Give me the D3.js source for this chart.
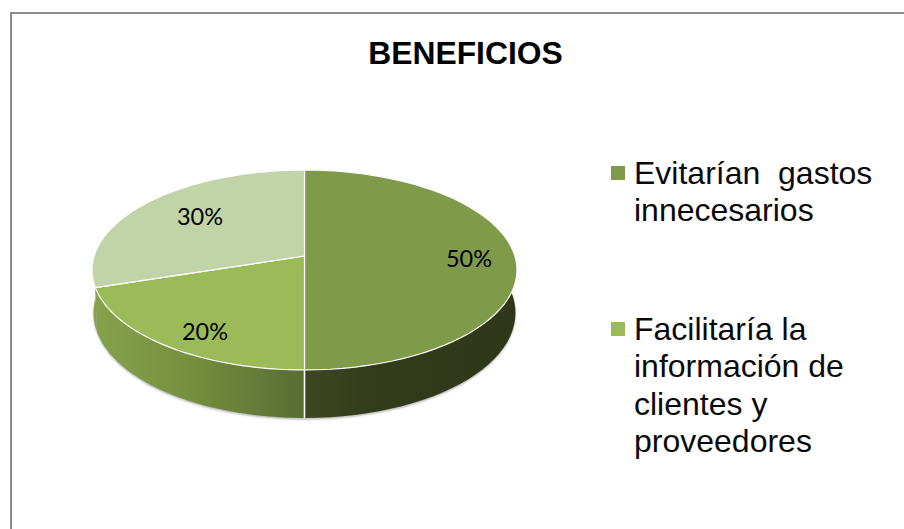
<!DOCTYPE html>
<html><head><meta charset="utf-8">
<script src="https://cdn.jsdelivr.net/npm/d3@7/dist/d3.min.js"></script>
<style>html,body{margin:0;padding:0;background:#fff}svg{display:block}</style>
</head><body><svg id="c" width="904" height="529"></svg>
<script>
const title = "BENEFICIOS";
const legendLines = [["Evitarían  gastos","innecesarios"],["Facilitaría la","información de","clientes y","proveedores"]];
const legendColors = ["#7f9a48","#9bbb59"];
const values = [50,20,30];
const sliceColors = ["#7f9a48","#9bbb59","#c3d3a8"];
const wallStops = [["#3c4721","#323b1a","#2f3718"],["#87a24c","#76903f","#5a6c33"],["#87a24c","#87a24c","#87a24c"]];
const labelX = [469,205,200], labelY = [259,332,217];

const svg = d3.select("#c");
const defs = svg.append("defs");
const cx=304.5, cy=256, k=0.14, a=98, b=210.4;
const proj = (t,depth)=>{const v=Math.cos(t),s=Math.sin(t),d=1+k*v;
  return [cx+(depth?b-1.5:b)*s/d, cy-a*v/d+(depth?42-6*v:0)];};
const pie = d3.pie().sort(null).value(d=>d)(values);

// frame
svg.append("path").attr("d","M11 529V13H904").attr("fill","none").attr("stroke","#8c8c8c").attr("stroke-width",2);

svg.append("text").attr("x",465.5).attr("y",64).attr("text-anchor","middle")
  .attr("font-family","Liberation Sans").attr("font-weight","bold").attr("font-size",31.8).text(title);

// shadow
const blur=defs.append("filter").attr("id","blur").attr("x","-10%").attr("y","-10%").attr("width","120%").attr("height","120%");
blur.append("feGaussianBlur").attr("stdDeviation",1.3);
const arcPts=(t0,t1,depth)=>d3.range(0,61).map(i=>proj(t0+(t1-t0)*i/60,depth));
svg.append("path").attr("d",d3.line()(arcPts(0,2*Math.PI,true).map(p=>[p[0],p[1]+1.5]))+"Z")
  .attr("fill","#9a9a9a").attr("opacity",.75).attr("filter","url(#blur)");

// walls
[2,1,0].forEach(i=>{const s=pie[i];
  const g=defs.append("linearGradient").attr("id","w"+i).attr("gradientUnits","userSpaceOnUse")
    .attr("x1",i==0?304:92).attr("x2",i==0?517:304).attr("y1",0).attr("y2",0);
  [[0,0],[i==0?.35:.45,1],[1,2]].forEach(([o,j])=>g.append("stop").attr("offset",o).attr("stop-color",wallStops[i][j]));
  const pts=arcPts(s.startAngle,s.endAngle,false).concat(arcPts(s.startAngle,s.endAngle,true).reverse());
  svg.append("path").attr("d",d3.line()(pts)+"Z").attr("fill",`url(#w${i})`);
});
// wall white edge
svg.append("path").attr("d",d3.line()([proj(Math.PI,false),proj(Math.PI,true)])).attr("stroke","#fff").attr("stroke-width",1.6);

// top faces
pie.forEach((s,i)=>{
  const pts=[[cx,cy]].concat(arcPts(s.startAngle,s.endAngle,false));
  svg.append("path").attr("d",d3.line()(pts)+"Z").attr("fill",sliceColors[i])
    .attr("stroke","#fff").attr("stroke-width",1.2).attr("stroke-linejoin","round");
});
pie.forEach((s,i)=>{
  svg.append("text").attr("x",labelX[i]).attr("y",labelY[i]+8).attr("text-anchor","middle")
    .attr("font-family","Lato").attr("font-size",23.5).attr("fill","#000").text(values[i]+"%");
});

// legend
const legendTop=[184,340];
legendLines.forEach((lines,i)=>{
  svg.append("rect").attr("x",611).attr("y",legendTop[i]-18).attr("width",14).attr("height",14).attr("fill",legendColors[i]);
  lines.forEach((l,j)=>svg.append("text").attr("x",634).attr("y",legendTop[i]+j*37.3)
    .attr("font-family","Liberation Sans").attr("font-size",32).attr("fill","#0a0a0a").style("white-space","pre").text(l));
});
</script></body></html>
